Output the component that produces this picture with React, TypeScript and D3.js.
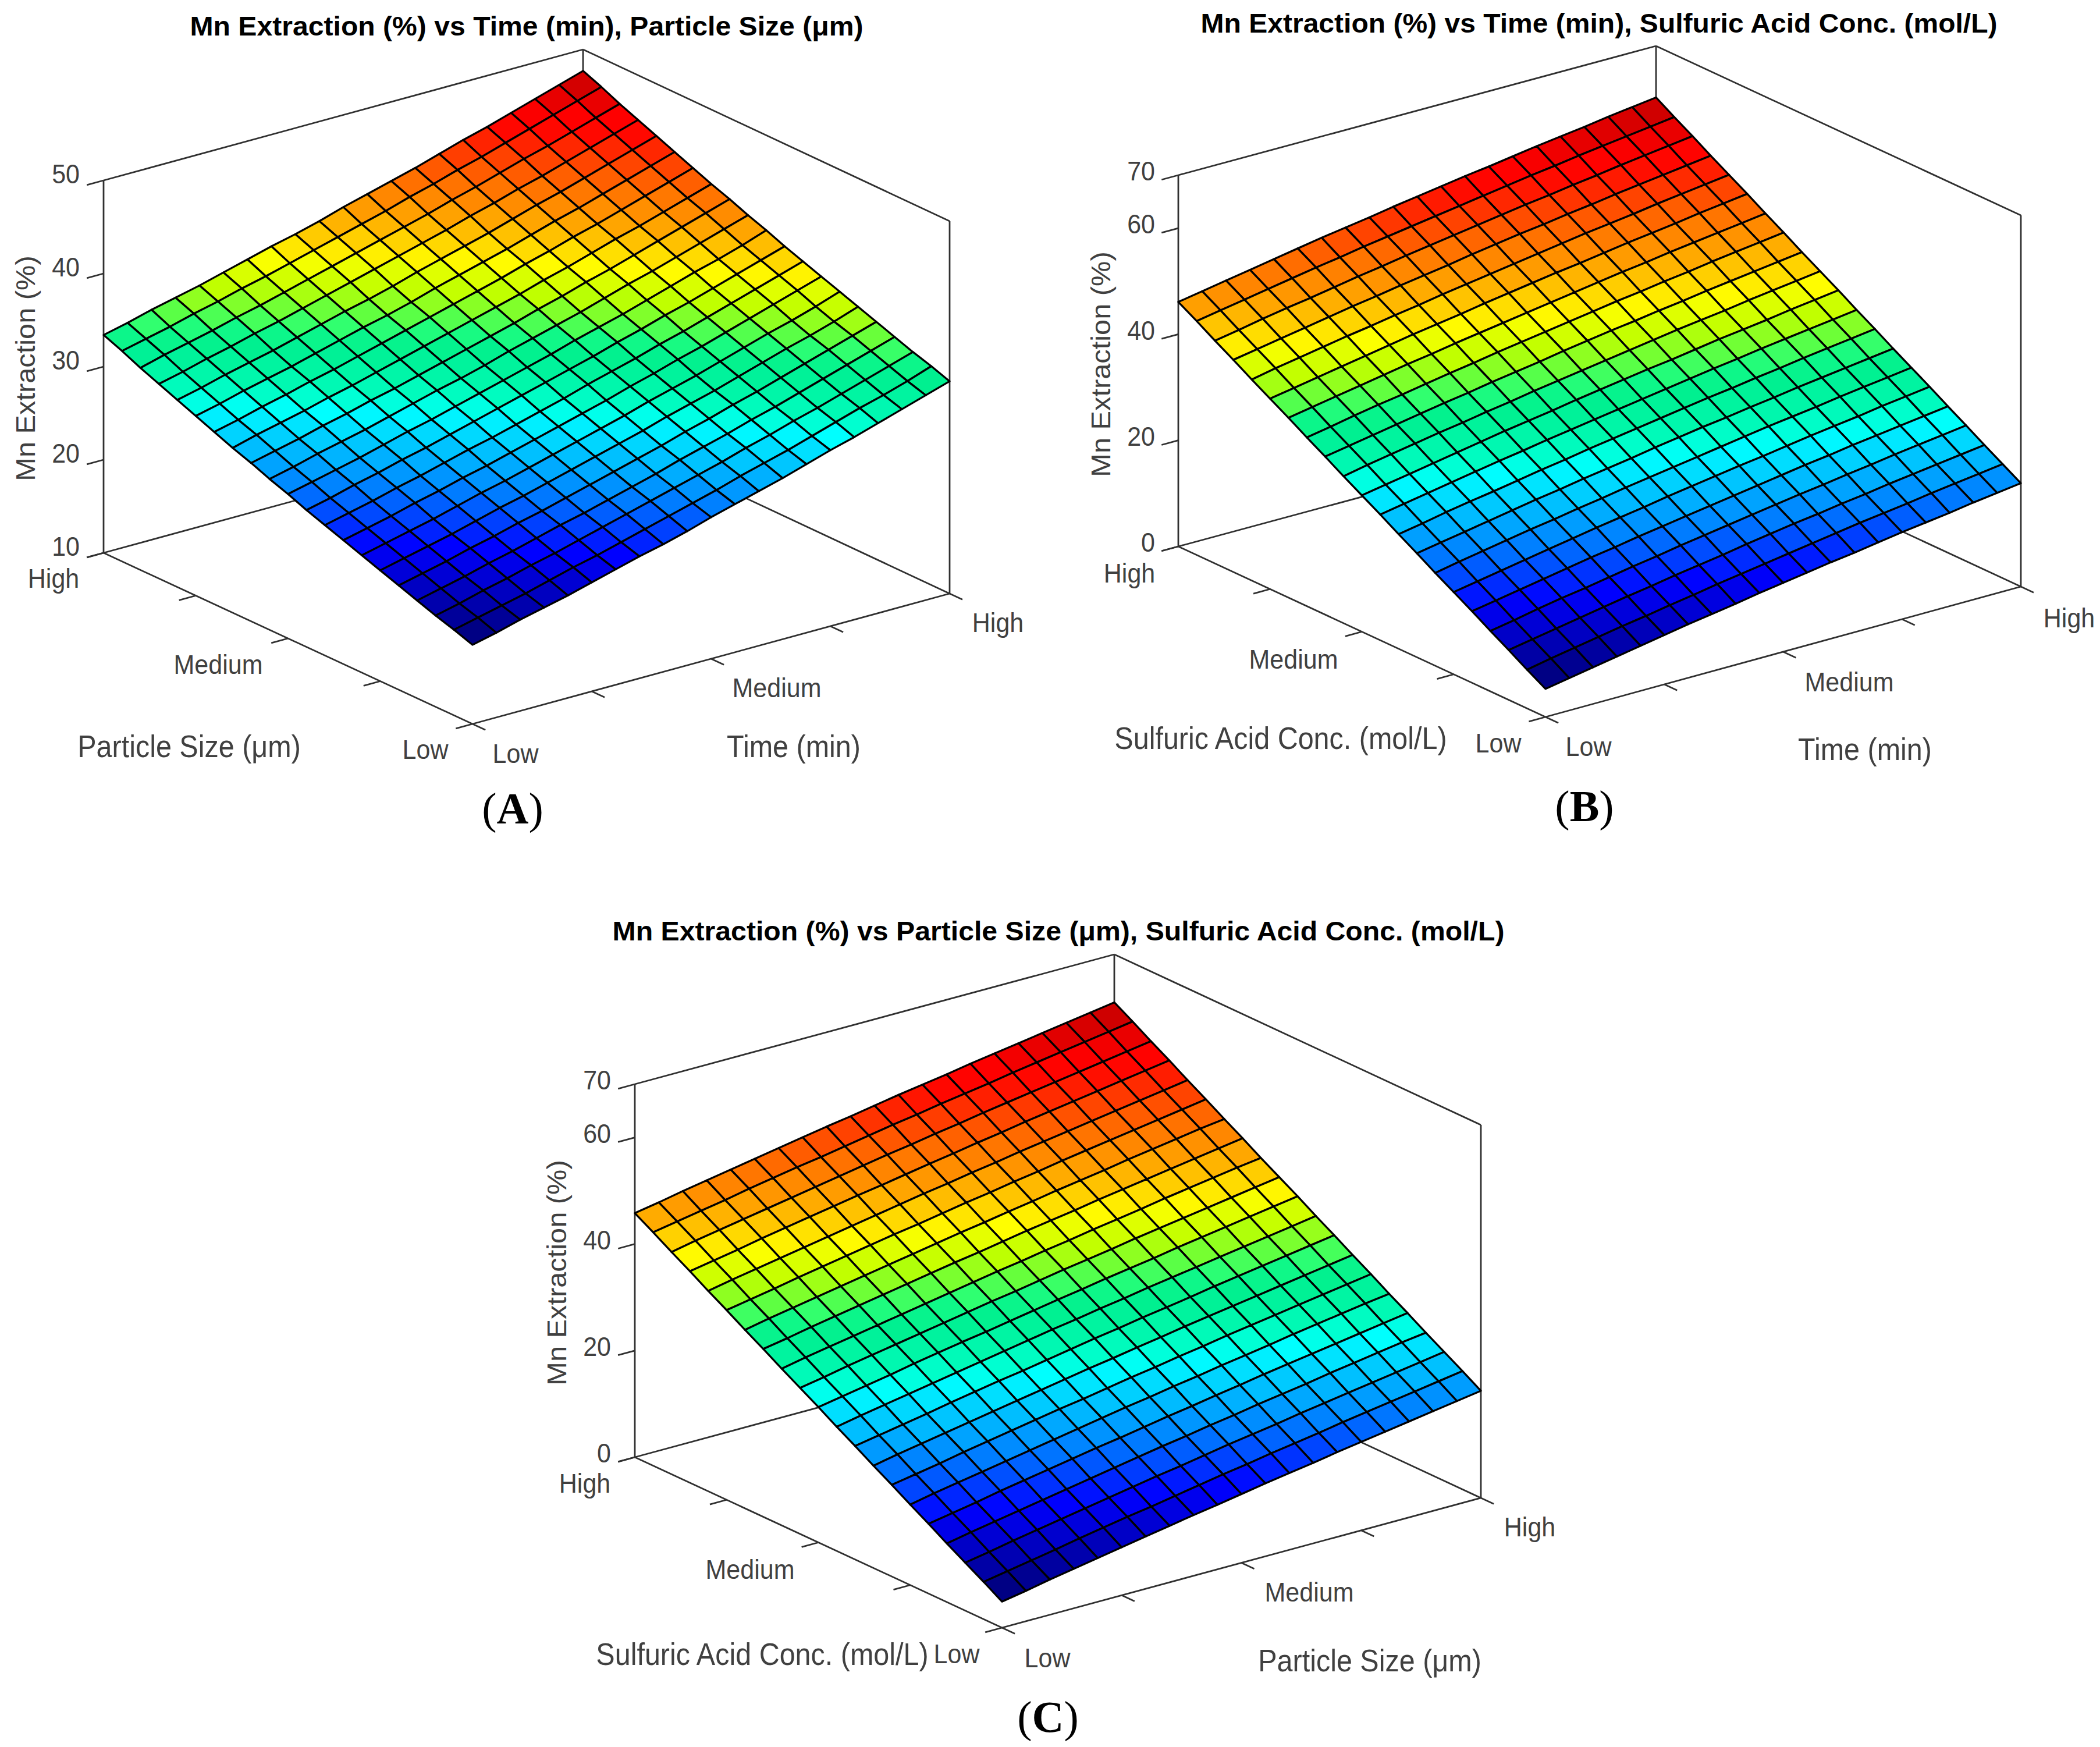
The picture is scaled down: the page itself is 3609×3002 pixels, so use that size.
import React from "react";
import * as d3 from "d3";

const levelLabels = ["Low", "Medium", "High"];
const floorTicks = [0, 0.25, 0.5, 0.75, 1];
const levelTickAt = [0, 0.5, 1];
const zTicksA = [10, 20, 30, 40, 50];
const zTicksB = [0, 20, 40, 60, 70];
const zTicksC = [0, 20, 40, 60, 70];

// Rows: left-hand factor Low -> High. Columns: right-hand factor Low -> High. Values: Mn extraction (%).
const surfaceA = [
[18.5,19.1,19.8,20.4,21.0,21.7,22.4,23.1,23.7,24.4,25.2,25.9,26.6,27.3,28.1,28.9,29.6,30.4,31.2,32.0,32.8],
[19.2,19.8,20.4,21.0,21.7,22.4,23.0,23.7,24.4,25.1,25.8,26.5,27.3,28.0,28.7,29.5,30.3,31.1,31.8,32.6,33.5],
[19.8,20.4,21.1,21.7,22.4,23.0,23.7,24.4,25.1,25.8,26.5,27.2,27.9,28.7,29.4,30.2,30.9,31.7,32.5,33.3,34.1],
[20.5,21.1,21.7,22.4,23.0,23.7,24.4,25.0,25.7,26.4,27.1,27.9,28.6,29.3,30.1,30.8,31.6,32.4,33.2,34.0,34.8],
[21.2,21.8,22.4,23.1,23.7,24.4,25.0,25.7,26.4,27.1,27.8,28.5,29.3,30.0,30.8,31.5,32.3,33.1,33.9,34.7,35.5],
[21.9,22.5,23.1,23.7,24.4,25.1,25.7,26.4,27.1,27.8,28.5,29.2,30.0,30.7,31.4,32.2,33.0,33.8,34.5,35.3,36.2],
[22.6,23.2,23.8,24.4,25.1,25.8,26.4,27.1,27.8,28.5,29.2,29.9,30.7,31.4,32.1,32.9,33.7,34.5,35.2,36.0,36.9],
[23.3,23.9,24.5,25.2,25.8,26.5,27.1,27.8,28.5,29.2,29.9,30.6,31.4,32.1,32.9,33.6,34.4,35.2,36.0,36.8,37.6],
[24.0,24.6,25.2,25.9,26.5,27.2,27.9,28.5,29.2,29.9,30.6,31.4,32.1,32.8,33.6,34.3,35.1,35.9,36.7,37.5,38.3],
[24.7,25.3,26.0,26.6,27.3,27.9,28.6,29.3,30.0,30.7,31.4,32.1,32.8,33.6,34.3,35.1,35.8,36.6,37.4,38.2,39.0],
[25.5,26.1,26.7,27.3,28.0,28.7,29.3,30.0,30.7,31.4,32.1,32.8,33.6,34.3,35.0,35.8,36.6,37.4,38.1,38.9,39.8],
[26.2,26.8,27.5,28.1,28.7,29.4,30.1,30.8,31.4,32.1,32.9,33.6,34.3,35.0,35.8,36.6,37.3,38.1,38.9,39.7,40.5],
[27.0,27.6,28.2,28.9,29.5,30.2,30.8,31.5,32.2,32.9,33.6,34.3,35.1,35.8,36.6,37.3,38.1,38.9,39.7,40.5,41.3],
[27.7,28.4,29.0,29.6,30.3,30.9,31.6,32.3,33.0,33.7,34.4,35.1,35.8,36.6,37.3,38.1,38.9,39.6,40.4,41.2,42.0],
[28.5,29.1,29.8,30.4,31.1,31.7,32.4,33.1,33.8,34.5,35.2,35.9,36.6,37.4,38.1,38.9,39.6,40.4,41.2,42.0,42.8],
[29.3,29.9,30.6,31.2,31.8,32.5,33.2,33.9,34.5,35.2,36.0,36.7,37.4,38.1,38.9,39.7,40.4,41.2,42.0,42.8,43.6],
[30.1,30.7,31.4,32.0,32.6,33.3,34.0,34.7,35.3,36.0,36.8,37.5,38.2,38.9,39.7,40.5,41.2,42.0,42.8,43.6,44.4],
[30.9,31.5,32.2,32.8,33.5,34.1,34.8,35.5,36.2,36.9,37.6,38.3,39.0,39.8,40.5,41.3,42.0,42.8,43.6,44.4,45.2],
[31.7,32.4,33.0,33.6,34.3,34.9,35.6,36.3,37.0,37.7,38.4,39.1,39.8,40.6,41.3,42.1,42.9,43.6,44.4,45.2,46.0],
[32.6,33.2,33.8,34.5,35.1,35.8,36.4,37.1,37.8,38.5,39.2,39.9,40.7,41.4,42.2,42.9,43.7,44.5,45.3,46.1,46.9],
[33.4,34.0,34.7,35.3,35.9,36.6,37.3,38.0,38.6,39.3,40.1,40.8,41.5,42.2,43.0,43.8,44.5,45.3,46.1,46.9,47.7],
];

const surfaceB = [
[5.3,6.1,6.9,7.7,8.5,9.3,10.1,10.8,11.5,12.3,13.0,13.7,14.4,15.0,15.7,16.4,17.0,17.6,18.3,18.9,19.5],
[7.3,8.2,9.0,9.8,10.6,11.3,12.1,12.8,13.6,14.3,15.0,15.7,16.4,17.1,17.8,18.4,19.0,19.7,20.3,20.9,21.5],
[9.4,10.2,11.0,11.8,12.6,13.4,14.1,14.9,15.6,16.3,17.1,17.8,18.5,19.1,19.8,20.4,21.1,21.7,22.3,22.9,23.5],
[11.4,12.2,13.1,13.9,14.6,15.4,16.2,16.9,17.7,18.4,19.1,19.8,20.5,21.2,21.8,22.5,23.1,23.8,24.4,25.0,25.6],
[13.5,14.3,15.1,15.9,16.7,17.5,18.2,19.0,19.7,20.4,21.1,21.8,22.5,23.2,23.9,24.5,25.2,25.8,26.4,27.0,27.6],
[15.5,16.3,17.1,17.9,18.7,19.5,20.3,21.0,21.7,22.5,23.2,23.9,24.6,25.2,25.9,26.6,27.2,27.8,28.5,29.1,29.7],
[17.5,18.4,19.2,20.0,20.8,21.5,22.3,23.0,23.8,24.5,25.2,25.9,26.6,27.3,28.0,28.6,29.2,29.9,30.5,31.1,31.7],
[19.6,20.4,21.2,22.0,22.8,23.6,24.3,25.1,25.8,26.5,27.3,28.0,28.7,29.3,30.0,30.6,31.3,31.9,32.5,33.1,33.7],
[21.6,22.4,23.3,24.1,24.8,25.6,26.4,27.1,27.9,28.6,29.3,30.0,30.7,31.4,32.0,32.7,33.3,34.0,34.6,35.2,35.8],
[23.7,24.5,25.3,26.1,26.9,27.7,28.4,29.2,29.9,30.6,31.3,32.0,32.7,33.4,34.1,34.7,35.4,36.0,36.6,37.2,37.8],
[25.7,26.5,27.3,28.1,28.9,29.7,30.5,31.2,31.9,32.7,33.4,34.1,34.8,35.4,36.1,36.8,37.4,38.0,38.7,39.3,39.9],
[27.7,28.6,29.4,30.2,31.0,31.7,32.5,33.2,34.0,34.7,35.4,36.1,36.8,37.5,38.2,38.8,39.4,40.1,40.7,41.3,41.9],
[29.8,30.6,31.4,32.2,33.0,33.8,34.5,35.3,36.0,36.7,37.5,38.2,38.9,39.5,40.2,40.8,41.5,42.1,42.7,43.3,43.9],
[31.8,32.6,33.5,34.3,35.0,35.8,36.6,37.3,38.1,38.8,39.5,40.2,40.9,41.6,42.2,42.9,43.5,44.2,44.8,45.4,46.0],
[33.9,34.7,35.5,36.3,37.1,37.9,38.6,39.4,40.1,40.8,41.5,42.2,42.9,43.6,44.3,44.9,45.6,46.2,46.8,47.4,48.0],
[35.9,36.7,37.5,38.3,39.1,39.9,40.7,41.4,42.1,42.9,43.6,44.3,45.0,45.6,46.3,47.0,47.6,48.2,48.9,49.5,50.1],
[37.9,38.8,39.6,40.4,41.2,41.9,42.7,43.4,44.2,44.9,45.6,46.3,47.0,47.7,48.4,49.0,49.6,50.3,50.9,51.5,52.1],
[40.0,40.8,41.6,42.4,43.2,44.0,44.7,45.5,46.2,46.9,47.7,48.4,49.1,49.7,50.4,51.0,51.7,52.3,52.9,53.5,54.1],
[42.0,42.8,43.7,44.5,45.2,46.0,46.8,47.5,48.3,49.0,49.7,50.4,51.1,51.8,52.4,53.1,53.7,54.4,55.0,55.6,56.2],
[44.1,44.9,45.7,46.5,47.3,48.1,48.8,49.6,50.3,51.0,51.7,52.4,53.1,53.8,54.5,55.1,55.8,56.4,57.0,57.6,58.2],
[46.1,46.9,47.7,48.5,49.3,50.1,50.9,51.6,52.3,53.1,53.8,54.5,55.2,55.8,56.5,57.2,57.8,58.4,59.1,59.7,60.3],
];

const surfaceC = [
[4.9,5.7,6.6,7.4,8.2,9.0,9.8,10.6,11.4,12.1,12.9,13.7,14.4,15.1,15.9,16.6,17.3,18.0,18.7,19.4,20.1],
[7.0,7.8,8.6,9.4,10.3,11.1,11.9,12.6,13.4,14.2,15.0,15.7,16.5,17.2,17.9,18.7,19.4,20.1,20.8,21.5,22.2],
[9.0,9.8,10.7,11.5,12.3,13.1,13.9,14.7,15.5,16.2,17.0,17.8,18.5,19.2,20.0,20.7,21.4,22.1,22.8,23.5,24.2],
[11.0,11.9,12.7,13.5,14.3,15.1,15.9,16.7,17.5,18.3,19.0,19.8,20.5,21.3,22.0,22.7,23.5,24.2,24.9,25.6,26.2],
[13.1,13.9,14.7,15.6,16.4,17.2,18.0,18.8,19.5,20.3,21.1,21.8,22.6,23.3,24.1,24.8,25.5,26.2,26.9,27.6,28.3],
[15.1,16.0,16.8,17.6,18.4,19.2,20.0,20.8,21.6,22.4,23.1,23.9,24.6,25.4,26.1,26.8,27.6,28.3,29.0,29.7,30.3],
[17.2,18.0,18.8,19.7,20.5,21.3,22.1,22.9,23.6,24.4,25.2,25.9,26.7,27.4,28.2,28.9,29.6,30.3,31.0,31.7,32.4],
[19.2,20.1,20.9,21.7,22.5,23.3,24.1,24.9,25.7,26.5,27.2,28.0,28.7,29.5,30.2,30.9,31.6,32.3,33.0,33.7,34.4],
[21.3,22.1,22.9,23.7,24.6,25.4,26.2,26.9,27.7,28.5,29.3,30.0,30.8,31.5,32.2,33.0,33.7,34.4,35.1,35.8,36.5],
[23.3,24.2,25.0,25.8,26.6,27.4,28.2,29.0,29.8,30.6,31.3,32.1,32.8,33.6,34.3,35.0,35.7,36.4,37.1,37.8,38.5],
[25.4,26.2,27.0,27.8,28.7,29.5,30.3,31.0,31.8,32.6,33.4,34.1,34.9,35.6,36.3,37.1,37.8,38.5,39.2,39.9,40.6],
[27.4,28.2,29.1,29.9,30.7,31.5,32.3,33.1,33.9,34.6,35.4,36.2,36.9,37.6,38.4,39.1,39.8,40.5,41.2,41.9,42.6],
[29.4,30.3,31.1,31.9,32.7,33.5,34.3,35.1,35.9,36.7,37.4,38.2,38.9,39.7,40.4,41.1,41.9,42.6,43.3,44.0,44.6],
[31.5,32.3,33.2,34.0,34.8,35.6,36.4,37.2,38.0,38.7,39.5,40.3,41.0,41.7,42.5,43.2,43.9,44.6,45.3,46.0,46.7],
[33.5,34.4,35.2,36.0,36.8,37.6,38.4,39.2,40.0,40.8,41.5,42.3,43.0,43.8,44.5,45.2,46.0,46.7,47.4,48.1,48.7],
[35.6,36.4,37.2,38.1,38.9,39.7,40.5,41.3,42.0,42.8,43.6,44.3,45.1,45.8,46.6,47.3,48.0,48.7,49.4,50.1,50.8],
[37.6,38.5,39.3,40.1,40.9,41.7,42.5,43.3,44.1,44.9,45.6,46.4,47.1,47.9,48.6,49.3,50.0,50.7,51.4,52.1,52.8],
[39.7,40.5,41.3,42.2,43.0,43.8,44.6,45.4,46.1,46.9,47.7,48.4,49.2,49.9,50.7,51.4,52.1,52.8,53.5,54.2,54.9],
[41.7,42.6,43.4,44.2,45.0,45.8,46.6,47.4,48.2,49.0,49.7,50.5,51.2,52.0,52.7,53.4,54.1,54.8,55.5,56.2,56.9],
[43.8,44.6,45.4,46.2,47.1,47.9,48.7,49.4,50.2,51.0,51.8,52.5,53.3,54.0,54.7,55.5,56.2,56.9,57.6,58.3,59.0],
[45.8,46.6,47.5,48.3,49.1,49.9,50.7,51.5,52.3,53.0,53.8,54.6,55.3,56.0,56.8,57.5,58.2,58.9,59.6,60.3,61.0],
];

type Pt = [number, number];

const jetStops = [0, 0.134, 0.178, 0.229, 0.277, 0.329, 0.356, 0.38, 0.408, 0.462, 0.49, 0.503, 0.527, 0.548, 0.568, 0.6, 0.616, 0.664, 0.712, 0.76, 0.81, 0.86, 0.885, 0.94, 0.973, 1];
const jetColors = ["#000084", "#0000ff", "#0040ff", "#0080ff", "#00b0ff", "#00e0ff", "#00ffff", "#00ffd0", "#00f8b0", "#00f090", "#10f888", "#30ff70", "#60ff40", "#90ff20", "#c0ff00", "#e0ff00", "#ffff00", "#ffc800", "#ff9800", "#ff7000", "#ff4000", "#ff0800", "#ff0000", "#d80000", "#c00000", "#a00000"];
const jet = d3.scaleLinear<string>().domain(jetStops).range(jetColors).clamp(true);

const panels = [
  {
    values: surfaceA, zDomain: [10, 50], zTicks: zTicksA,
    title: "Mn Extraction (%) vs Time (min), Particle Size (μm)", titleAt: [905, 44] as Pt, titleLen: 1157,
    right: "Time (min)", left: "Particle Size (μm)", letter: "A",
    fb: [812, 1244] as Pt, rb: [1632, 1020] as Pt, lb: [178, 950] as Pt, lt: [178, 310] as Pt, backNudge: [4, -1] as Pt,
    rightAt: [1364, 1283] as Pt, leftAt: [325, 1283] as Pt, zLabelAt: [44, 633] as Pt, letterAt: [881, 1389] as Pt,
    rightLevels: [[886, 1295], [1335, 1182], [1715, 1070]] as Pt[],
    leftLevels: [[731, 1288], [375, 1142], [92, 994]] as Pt[],
    zLabelX: 137, zLabelDy: -11,
  },
  {
    values: surfaceB, zDomain: [0, 70], zTicks: zTicksB,
    title: "Mn Extraction (%) vs Time (min), Sulfuric Acid Conc. (mol/L)", titleAt: [2748, 39] as Pt, titleLen: 1369,
    right: "Time (min)", left: "Sulfuric Acid Conc. (mol/L)", letter: "B",
    fb: [2656, 1232] as Pt, rb: [3473, 1008] as Pt, lb: [2025, 939] as Pt, lt: [2025, 301] as Pt, backNudge: [4, 2] as Pt,
    rightAt: [3205, 1288] as Pt, leftAt: [2201, 1269] as Pt, zLabelAt: [1892, 626] as Pt, letterAt: [2723, 1385] as Pt,
    rightLevels: [[2730, 1283], [3178, 1172], [3556, 1062]] as Pt[],
    leftLevels: [[2575, 1277], [2223, 1133], [1941, 985]] as Pt[],
    zLabelX: 1985, zLabelDy: -7,
  },
  {
    values: surfaceC, zDomain: [0, 70], zTicks: zTicksC,
    title: "Mn Extraction (%) vs Particle Size (μm), Sulfuric Acid Conc. (mol/L)", titleAt: [1819, 1599] as Pt, titleLen: 1533,
    right: "Particle Size (μm)", left: "Sulfuric Acid Conc. (mol/L)", letter: "C",
    fb: [1722, 2797] as Pt, rb: [2545, 2574] as Pt, lb: [1091, 2504] as Pt, lt: [1091, 1863] as Pt, backNudge: [1, 0] as Pt,
    rightAt: [2354, 2854] as Pt, leftAt: [1310, 2843] as Pt, zLabelAt: [957, 2187] as Pt, letterAt: [1801, 2950] as Pt,
    rightLevels: [[1800, 2849], [2250, 2736], [2629, 2624]] as Pt[],
    leftLevels: [[1644, 2842], [1289, 2697], [1005, 2549]] as Pt[],
    zLabelX: 1050, zLabelDy: -7,
  },
];

const SANS = "'Liberation Sans', Arial, sans-serif";
const AXIS = "#303030";
const TXT = "#404040";
const TICK_FRAC = 0.035;
const TICK_SIZE = 43;
const LABEL_SIZE = 48.5;
const STRETCH = 1.09;

function Label({ at, size, children }: { at: Pt; size: number; children: React.ReactNode }) {
  return (
    <text transform={`translate(${at[0]},${at[1]}) scale(1,${STRETCH})`} textAnchor="middle" dominantBaseline="central" fontSize={size} fill={TXT}>
      {children}
    </text>
  );
}

function Panel({ p }: { p: (typeof panels)[number] }) {
  const nCols = p.values[0].length - 1;
  const nRows = p.values.length - 1;
  const xS = d3.scaleLinear().domain([0, nCols]).range([0, 1]);
  const yS = d3.scaleLinear().domain([0, nRows]).range([0, 1]);
  const zS = d3.scaleLinear().domain(p.zDomain).range([0, 1]);
  const ux: Pt = [p.rb[0] - p.fb[0], p.rb[1] - p.fb[1]];
  const uy: Pt = [p.lb[0] - p.fb[0], p.lb[1] - p.fb[1]];
  const uz: Pt = [p.lt[0] - p.lb[0], p.lt[1] - p.lb[1]];
  const proj = (x: number, y: number, z: number): Pt => [
    p.fb[0] + x * ux[0] + y * uy[0] + z * uz[0] + x * y * p.backNudge[0],
    p.fb[1] + x * ux[1] + y * uy[1] + z * uz[1] + x * y * p.backNudge[1],
  ];
  const line = d3.line();
  const seg = (a: Pt, b: Pt) => line([a, b]) as string;

  const flat = p.values.flat();
  const [zMin, zMax] = d3.extent(flat) as [number, number];
  const cS = d3.scaleLinear().domain([zMin, zMax]).range([0, 1]);

  const cells: { d: string; fill: string; key: string }[] = [];
  for (let j = nRows - 1; j >= 0; j--) {
    for (let i = nCols - 1; i >= 0; i--) {
      const v = p.values;
      const pts: Pt[] = [
        proj(xS(i), yS(j), zS(v[j][i])),
        proj(xS(i + 1), yS(j), zS(v[j][i + 1])),
        proj(xS(i + 1), yS(j + 1), zS(v[j + 1][i + 1])),
        proj(xS(i), yS(j + 1), zS(v[j + 1][i])),
      ];
      cells.push({ d: (line(pts) as string) + "Z", fill: jet(cS(v[j][i])), key: `${i}-${j}` });
    }
  }

  const box: [Pt, Pt][] = [
    [proj(0, 1, 0), proj(1, 1, 0)],
    [proj(1, 0, 0), proj(1, 1, 0)],
    [proj(1, 1, 0), proj(1, 1, 1)],
    [proj(0, 1, 1), proj(1, 1, 1)],
    [proj(1, 0, 1), proj(1, 1, 1)],
    [proj(0, 1, 0), proj(0, 1, 1)],
    [proj(1, 0, 0), proj(1, 0, 1)],
    [proj(0, 1, 0), proj(0, 0, 0)],
    [proj(0, 0, 0), proj(1, 0, 0)],
  ];
  const ticks: [Pt, Pt][] = [];
  p.zTicks.forEach((t) => ticks.push([proj(0, 1, zS(t)), proj(-TICK_FRAC, 1, zS(t))]));
  floorTicks.forEach((t) => {
    ticks.push([proj(0, t, 0), proj(-TICK_FRAC, t, 0)]);
    ticks.push([proj(t, 0, 0), proj(t, -TICK_FRAC, 0)]);
  });

  return (
    <g fontFamily={SANS}>
      {box.map(([a, b], i) => (
        <path key={i} d={seg(a, b)} stroke={AXIS} strokeWidth={2.8} fill="none" />
      ))}
      {ticks.map(([a, b], i) => (
        <path key={i} d={seg(a, b)} stroke={AXIS} strokeWidth={2.8} fill="none" />
      ))}
      {cells.map((c) => (
        <path key={c.key} d={c.d} fill={c.fill} stroke="#000" strokeWidth={3.3} strokeLinejoin="round" />
      ))}
      {p.zTicks.map((t) => (
        <text key={t} transform={`translate(${p.zLabelX},${proj(0, 1, zS(t))[1] + p.zLabelDy}) scale(1,${STRETCH})`} textAnchor="end" dominantBaseline="central" fontSize={TICK_SIZE} fill={TXT}>
          {t}
        </text>
      ))}
      {levelTickAt.map((_, i) => (
        <Label key={`r${i}`} at={p.rightLevels[i]} size={TICK_SIZE}>{levelLabels[i]}</Label>
      ))}
      {levelTickAt.map((_, i) => (
        <Label key={`l${i}`} at={p.leftLevels[i]} size={TICK_SIZE}>{levelLabels[i]}</Label>
      ))}
      <Label at={p.rightAt} size={LABEL_SIZE}>{p.right}</Label>
      <Label at={p.leftAt} size={LABEL_SIZE}>{p.left}</Label>
      <text transform={`translate(${p.zLabelAt[0]},${p.zLabelAt[1]}) rotate(-90) scale(1.06,1)`} textAnchor="middle" dominantBaseline="central" fontSize={46} fill={TXT}>
        Mn Extraction (%)
      </text>
      <text x={p.titleAt[0]} y={p.titleAt[1]} textAnchor="middle" dominantBaseline="central" fontSize={47} fontWeight="bold" fill="#000" textLength={p.titleLen} lengthAdjust="spacingAndGlyphs">
        {p.title}
      </text>
      <text x={p.letterAt[0]} y={p.letterAt[1]} textAnchor="middle" dominantBaseline="central" fontSize={76} fontFamily="'Liberation Serif', serif" fill="#000">
        (<tspan fontWeight="bold">{p.letter}</tspan>)
      </text>
    </g>
  );
}

export default function App() {
  return (
    <svg width={3609} height={3002} viewBox="0 0 3609 3002" style={{ position: "absolute", left: 0, top: 0, display: "block", background: "#fff" }}>
      {panels.map((p) => (
        <Panel key={p.letter} p={p} />
      ))}
    </svg>
  );
}
